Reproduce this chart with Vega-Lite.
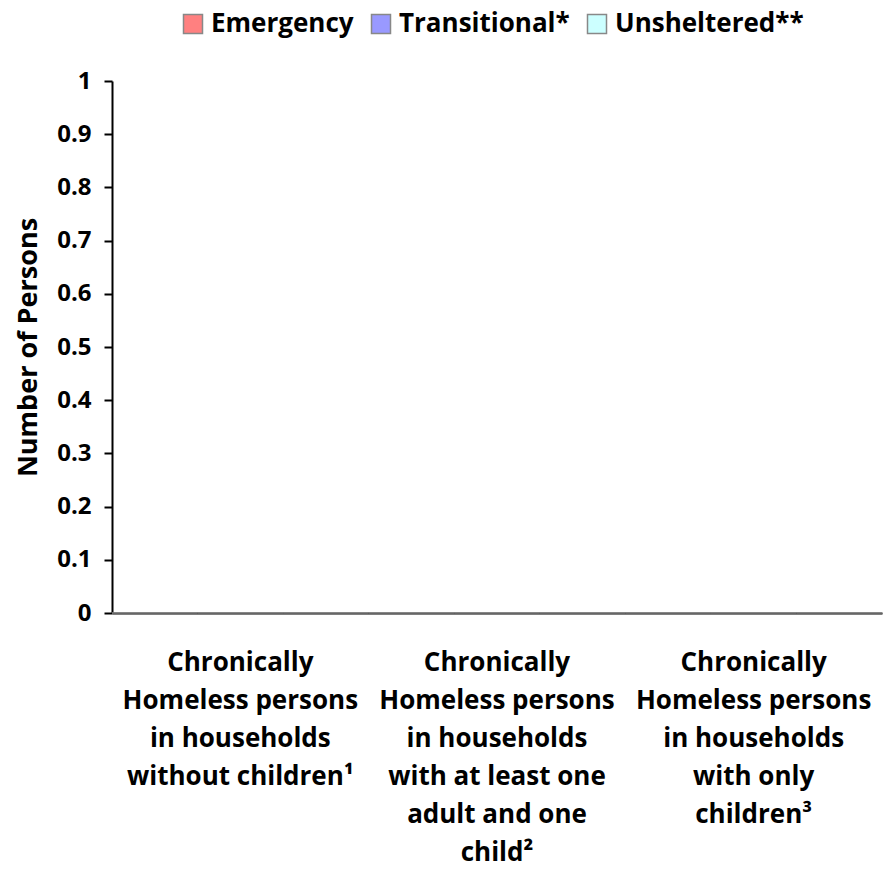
{
  "$schema": "https://vega.github.io/schema/vega-lite/v6.json",
  "width": 770,
  "height": 532,
  "autosize": {"type": "none"},
  "padding": {"left": 112, "top": 81, "right": 1, "bottom": 273},
  "background": "white",
  "config": {
    "view": {"stroke": null},
    "font": "Open Sans"
  },
  "data": {
    "values": [
      {"category": "Chronically|Homeless persons|in households|without children¹", "order": 1, "type": "Emergency", "persons": 0},
      {"category": "Chronically|Homeless persons|in households|without children¹", "order": 1, "type": "Transitional*", "persons": 0},
      {"category": "Chronically|Homeless persons|in households|without children¹", "order": 1, "type": "Unsheltered**", "persons": 0},
      {"category": "Chronically|Homeless persons|in households|with at least one|adult and one|child²", "order": 2, "type": "Emergency", "persons": 0},
      {"category": "Chronically|Homeless persons|in households|with at least one|adult and one|child²", "order": 2, "type": "Transitional*", "persons": 0},
      {"category": "Chronically|Homeless persons|in households|with at least one|adult and one|child²", "order": 2, "type": "Unsheltered**", "persons": 0},
      {"category": "Chronically|Homeless persons|in households|with only|children³", "order": 3, "type": "Emergency", "persons": 0},
      {"category": "Chronically|Homeless persons|in households|with only|children³", "order": 3, "type": "Transitional*", "persons": 0},
      {"category": "Chronically|Homeless persons|in households|with only|children³", "order": 3, "type": "Unsheltered**", "persons": 0}
    ]
  },
  "mark": {"type": "bar", "stroke": "#888888", "strokeWidth": 1},
  "encoding": {
    "x": {
      "field": "category",
      "type": "nominal",
      "sort": {"field": "order"},
      "scale": {"paddingInner": 0, "paddingOuter": 0},
      "axis": {
        "title": null,
        "labelAngle": 0,
        "labelExpr": "split(datum.label, '|')",
        "labelFont": "Open Sans",
        "labelFontSize": 26,
        "labelFontWeight": "bold",
        "labelColor": "black",
        "labelLineHeight": 38,
        "labelPadding": 36,
        "labelLimit": 400,
        "ticks": false,
        "domainColor": "black",
        "domainWidth": 2,
        "grid": false
      }
    },
    "xOffset": {"field": "type", "type": "nominal", "sort": ["Emergency", "Transitional*", "Unsheltered**"]},
    "y": {
      "field": "persons",
      "type": "quantitative",
      "scale": {"domain": [0, 1], "nice": false},
      "axis": {
        "title": "Number of Persons",
        "titleFont": "Open Sans",
        "titleFontSize": 27,
        "titleFontWeight": "bold",
        "titleColor": "black",
        "titlePadding": 14,
        "values": [0, 0.1, 0.2, 0.3, 0.4, 0.5, 0.6, 0.7, 0.8, 0.9, 1],
        "labelExpr": "datum.value == 0 ? '0' : datum.value == 1 ? '1' : format(datum.value, '.1f')",
        "labelFont": "Open Sans",
        "labelFontSize": 24,
        "labelFontWeight": "bold",
        "labelColor": "black",
        "labelPadding": 13,
        "tickSize": 8,
        "tickColor": "black",
        "tickWidth": 2,
        "domainColor": "black",
        "domainWidth": 2,
        "grid": false
      }
    },
    "color": {
      "field": "type",
      "type": "nominal",
      "sort": ["Emergency", "Transitional*", "Unsheltered**"],
      "scale": {"domain": ["Emergency", "Transitional*", "Unsheltered**"], "range": ["#FF8080", "#9999FF", "#CCFFFF"]},
      "legend": {
        "title": null,
        "orient": "none",
        "direction": "horizontal",
        "legendX": 68,
        "legendY": -70,
        "symbolType": "square",
        "symbolSize": 361,
        "symbolStrokeColor": "#888888",
        "symbolStrokeWidth": 1.5,
        "symbolOpacity": 1,
        "labelFont": "Open Sans",
        "labelFontSize": 26,
        "labelFontWeight": "bold",
        "labelColor": "black",
        "labelOffset": 5,
        "labelLimit": 400,
        "columnPadding": 14
      }
    }
  }
}
